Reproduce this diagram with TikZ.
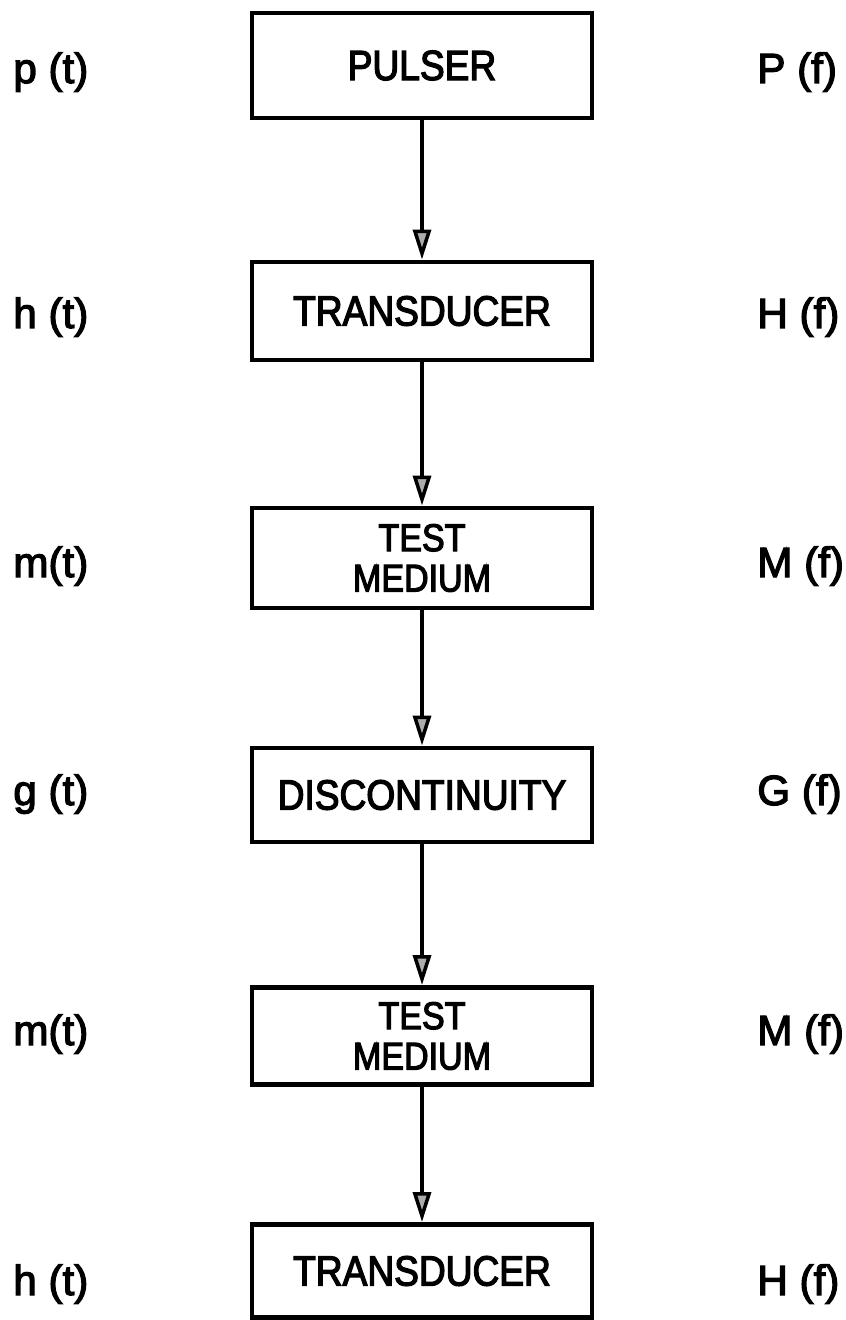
\documentclass[tikz,border=0pt]{standalone}
\usepackage{fontspec}
\setmainfont{Liberation Sans}
\newfontfamily\boxfont{Liberation Sans}[FakeStretch=0.88,FakeBold=3]
\newfontfamily\labelfont{Liberation Sans}[FakeBold=3]
\usetikzlibrary{arrows.meta}

\begin{document}
\begin{tikzpicture}[x=0.2mm, y=-0.2mm,
    blockbox/.style={draw, line width=2.8pt, minimum width=68mm, align=center, inner sep=0pt,
      font=\boxfont\fontsize{24}{23}\selectfont},
    twoline/.style={font=\boxfont\fontsize{22}{23}\selectfont},
    siglabel/.style={anchor=base west, inner sep=0pt, font=\labelfont\fontsize{24}{28}\selectfont},
    flow/.style={line width=2pt, -{Triangle[length=6mm, width=3.6mm, fill=gray!65]}}]
    \useasboundingbox (0,0) rectangle (846,1320);

    % Draw the blocks
    \node[blockbox, minimum height=21mm] (pulser) at (422,65.5) {PULSER};
    \node[blockbox, minimum height=19.6mm] (trans1) at (422,311) {TRANSDUCER};
    \node[blockbox, twoline, minimum height=20mm] (medium1) at (422,558) {TEST\\MEDIUM};
    \node[blockbox, minimum height=18.8mm] (discont) at (422,795) {DISCONTINUITY};
    \node[blockbox, twoline, minimum height=19.4mm] (medium2) at (422,1036) {TEST\\MEDIUM};
    \node[blockbox, minimum height=18.6mm] (trans2) at (422,1271) {TRANSDUCER};

    % Draw the arrows between the blocks
    \draw[flow] (pulser) -- (trans1);
    \draw[flow] (trans1) -- (medium1);
    \draw[flow] (medium1) -- (discont);
    \draw[flow] (discont) -- (medium2);
    \draw[flow] (medium2) -- (trans2);

    % Label the time responses
    \node[siglabel] (pt) at (13,83) {p (t)};
    \node[siglabel] (ht1) at (13,328) {h (t)};
    \node[siglabel] (mt1) at (13,577) {m(t)};
    \node[siglabel] (gt) at (13,805) {g (t)};
    \node[siglabel] (mt2) at (13,1045) {m(t)};
    \node[siglabel] (ht2) at (13,1295) {h (t)};

    % Label the frequency responses
    \node[siglabel] (pf) at (757,83) {P (f)};
    \node[siglabel] (hf1) at (757,328) {H (f)};
    \node[siglabel] (mf1) at (757,577) {M (f)};
    \node[siglabel] (gf) at (757,805) {G (f)};
    \node[siglabel] (mf2) at (757,1045) {M (f)};
    \node[siglabel] (hf2) at (757,1295) {H (f)};
\end{tikzpicture}
\end{document}
